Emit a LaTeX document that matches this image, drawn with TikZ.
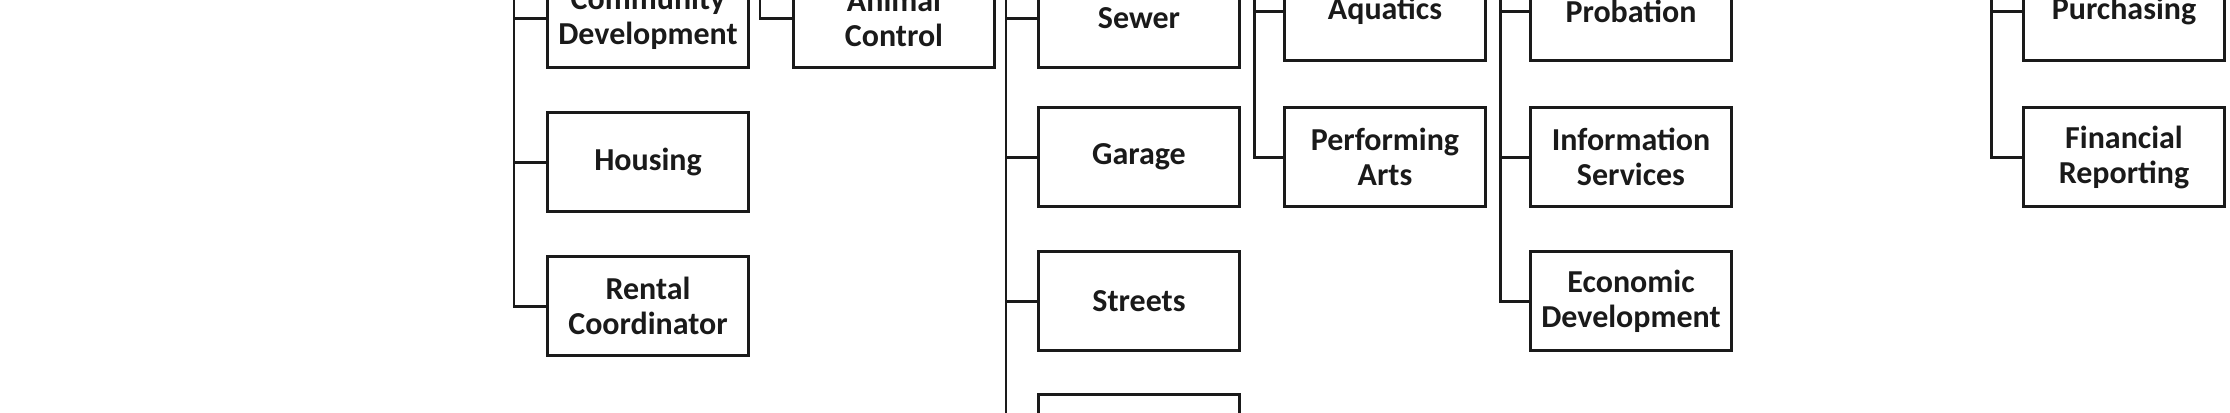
\documentclass[tikz,border=0pt]{standalone}
\usepackage{fontspec}
\setmainfont{Carlito}
\usetikzlibrary{positioning}
\definecolor{Ink}{HTML}{1A1A1A}

\begin{document}
\begin{tikzpicture}[x=1cm,y=1cm,
  unit/.style={draw=Ink,line width=0.85pt,minimum width=2.01cm,minimum height=0.99cm,
    inner sep=1pt,align=center,text=Ink,font=\fontsize{9.1pt}{9.96pt}\selectfont\bfseries},
  link/.style={draw=Ink,line width=0.85pt}]
\useasboundingbox (0,0) rectangle (22.30,-4.12);
\clip (0,0) rectangle (22.30,-4.12);
\node[unit] (commdev) at (6.480,-0.180) {Community\\Development};
\node[unit] (housing) at (6.480,-1.620) {Housing};
\node[unit] (rental) at (6.480,-3.060) {Rental\\Coordinator};
\node[unit] (animal) at (8.940,-0.180) {Animal\\Control};
\node[unit] (sewer) at (11.390,-0.180) {Sewer};
\node[unit] (garage) at (11.390,-1.570) {Garage};
\node[unit] (streets) at (11.390,-3.010) {Streets};
\node[unit] (works) at (11.390,-4.440) {};
\node[unit] (aquatics) at (13.850,-0.110) {Aquatics};
\node[unit] (arts) at (13.850,-1.570) {Performing\\Arts};
\node[unit] (probation) at (16.310,-0.110) {Probation};
\node[unit] (infoserv) at (16.310,-1.570) {Information\\Services};
\node[unit] (econdev) at (16.310,-3.010) {Economic\\Development};
\node[unit] (purchasing) at (21.240,-0.110) {Purchasing};
\node[unit] (finrep) at (21.240,-1.570) {Financial\\Reporting};
\coordinate (cdbus) at (5.140,0.50);
\coordinate (acbus) at (7.600,0.50);
\coordinate (pwbus) at (10.060,0.50);
\coordinate (recbus) at (12.540,0.50);
\coordinate (adminbus) at (15.000,0.50);
\coordinate (finbus) at (19.910,0.50);
\draw[link] (cdbus) |- (rental.west);
\draw[link] (cdbus |- housing.west) -- (housing.west);
\draw[link] (cdbus |- commdev.west) -- (commdev.west);
\draw[link] (acbus) |- (animal.west);
\draw[link] (pwbus) |- (works.west);
\draw[link] (pwbus |- streets.west) -- (streets.west);
\draw[link] (pwbus |- garage.west) -- (garage.west);
\draw[link] (pwbus |- sewer.west) -- (sewer.west);
\draw[link] (recbus) |- (arts.west);
\draw[link] (recbus |- aquatics.west) -- (aquatics.west);
\draw[link] (adminbus) |- (econdev.west);
\draw[link] (adminbus |- infoserv.west) -- (infoserv.west);
\draw[link] (adminbus |- probation.west) -- (probation.west);
\draw[link] (finbus) |- (finrep.west);
\draw[link] (finbus |- purchasing.west) -- (purchasing.west);
\end{tikzpicture}
\end{document}
